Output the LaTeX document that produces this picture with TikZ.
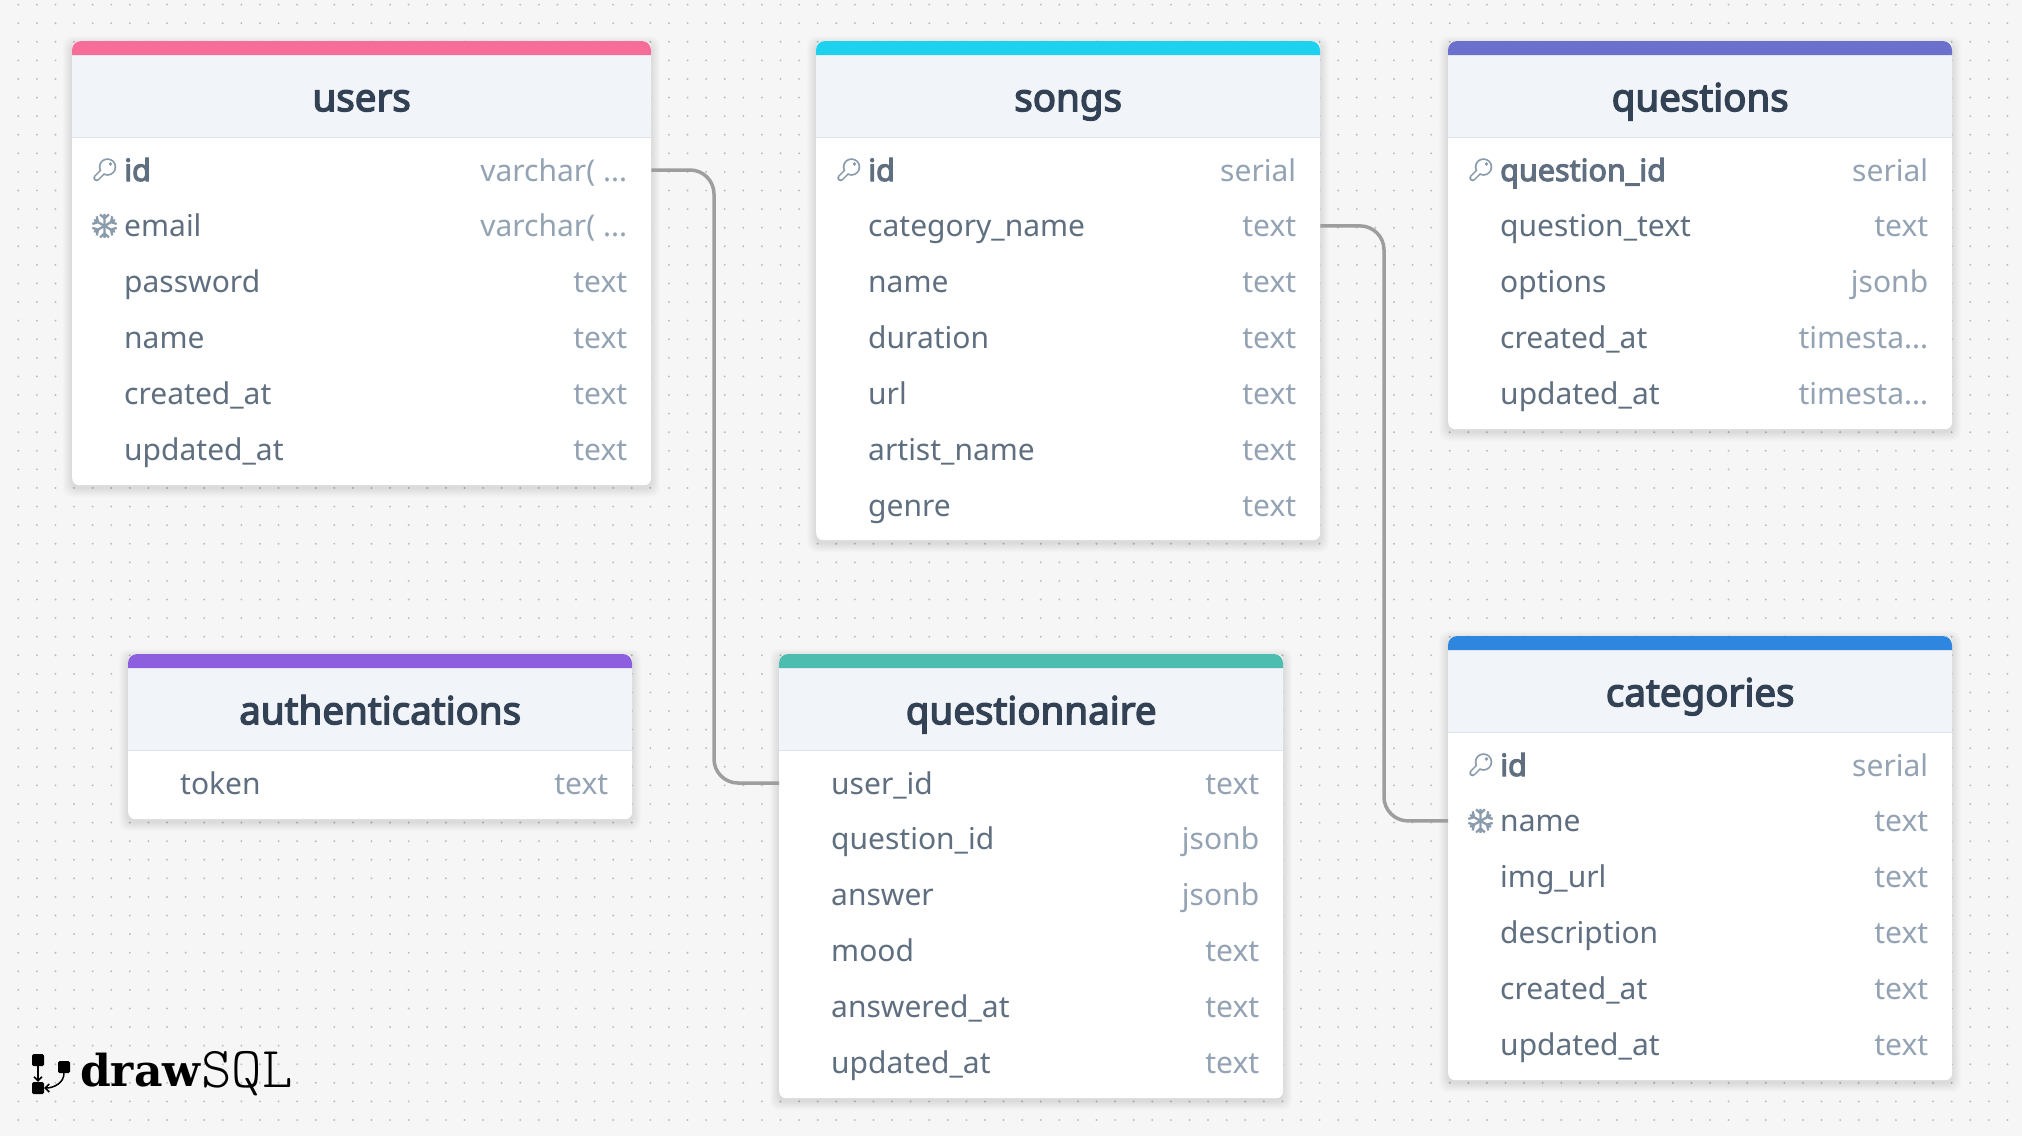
\documentclass[tikz,border=0pt]{standalone}
\usepackage{fontspec}
\setmainfont{Noto Sans}[AutoFakeBold=3.5]
\usetikzlibrary{arrows.meta}

\definecolor{pagebg}{HTML}{F6F6F6}
\definecolor{griddot}{HTML}{BEBEBE}
\definecolor{headbg}{HTML}{F1F4F9}
\definecolor{headline}{HTML}{DCE3EC}
\definecolor{titletext}{HTML}{334155}
\definecolor{fieldtext}{HTML}{5F6F80}
\definecolor{kindtext}{HTML}{94A3B3}
\definecolor{marktext}{HTML}{8A9BAB}
\definecolor{relline}{HTML}{9E9E9E}
\definecolor{pinkband}{HTML}{F76D9A}
\definecolor{cyanband}{HTML}{1DD1EF}
\definecolor{indigoband}{HTML}{6B70CC}
\definecolor{purpleband}{HTML}{8D5FDF}
\definecolor{tealband}{HTML}{4CBDAE}
\definecolor{blueband}{HTML}{2E86DE}

\newcommand{\vchar}{varchar( ...}
\newcommand{\tstamp}{timesta...}

\tikzset{
    body/.style = {fill=white, rounded corners=7, anchor=north west, inner sep=0},
    head/.style = {fill=headbg, anchor=north west, inner sep=0, minimum height=82,
        font=\fontsize{38.5}{38.5}\selectfont\bfseries, text=titletext, text height=30, text depth=0},
    rowbox/.style = {inner sep=0, minimum height=55.9},
    plainfield/.style = {anchor=west, inner sep=0, text=fieldtext,
        font=\fontsize{30}{30}\selectfont, text height=25, text depth=3},
    idfield/.style = {plainfield, font=\fontsize{30.5}{30.5}\selectfont\bfseries},
    kind/.style = {anchor=east, inner sep=0, text=kindtext,
        font=\fontsize{30}{30}\selectfont, text height=25, text depth=3},
    rel/.style = {draw=relline, line width=3.5, rounded corners=24},
    logobox/.style = {fill=black, rounded corners=1.5, minimum size=12, inner sep=0},
    logoline/.style = {line width=1.5, -{Straight Barb[length=4,width=8]}},
    keymark/.pic = {
        \draw[marktext, line width=6.6, line cap=round] (-8,8) -- (3,-3);
        \fill[marktext] (3,-3) circle[radius=8.8];
        \draw[white, line width=3.4, line cap=round] (-8,8) -- (3,-3);
        \fill[white] (3,-3) circle[radius=7];
        \fill[marktext] (6,-6) circle[radius=1.9];
    },
    idxmark/.pic = {
        \foreach \a in {0,60,...,300}
            \draw[marktext, line width=2.3, rotate=\a] (0,0) -- (0,-12) (-4.4,-11.5) -- (0,-7.5) -- (4.4,-11.5);
    }
}

% #1 name, #2 x, #3 top, #4 width, #5 height, #6 band, #7 title, #8 rows
\newcommand{\dbtable}[8]{
    \foreach \s in {1,...,9}
        \fill[black, opacity=.012, rounded corners=9] (#2-\s,#3+4-\s) rectangle (#2+#4+\s,#3+#5+3+\s);
    \node[body, minimum width=#4, minimum height=#5] (#1) at (#2,#3) {};
    \node[head, minimum width=#4] (#1-head) at (#2,#3+14) {#7};
    \fill[#6] [rounded corners=9] (#2,#3+14) -- (#2,#3) -- (#2+#4,#3) [sharp corners] -- (#2+#4,#3+14) -- cycle;
    \draw[headline, line width=1.5] (#1-head.south west) -- (#1-head.south east);
    \foreach \sty/\fname/\fkind [count=\i] in {#8} {
        \path (#1.north) ++(0,{73.1+55.9*\i}) node[rowbox, minimum width=#4] (#1-\i) {};
        \node[\sty] (#1-\i-name) at ([xshift=52]#1-\i.west) {\fname};
        \node[kind] (#1-\i-kind) at ([xshift=-24]#1-\i.east) {\fkind};
    }
}

\begin{document}
\begin{tikzpicture}[x=1pt, y=-1pt]
    \useasboundingbox (0,0) rectangle (2022,1136);
    \fill[pagebg] (0,0) rectangle (2022,1136);
    \foreach \x in {18.3,36.89,...,2022}
        \foreach \y in {4.6,23.19,...,1136}
            \fill[griddot] (\x,\y) circle[radius=1.1];

    \dbtable{users}{72}{41}{579}{444}{pinkband}{users}{
        idfield/id/\vchar, plainfield/email/\vchar, plainfield/password/text,
        plainfield/name/text, plainfield/created\_at/text, plainfield/updated\_at/text}
    \dbtable{songs}{816}{41}{504}{499}{cyanband}{songs}{
        idfield/id/serial, plainfield/category\_name/text, plainfield/name/text,
        plainfield/duration/text, plainfield/url/text, plainfield/artist\_name/text,
        plainfield/genre/text}
    \dbtable{questions}{1448}{41}{504}{388}{indigoband}{questions}{
        idfield/question\_id/serial, plainfield/question\_text/text, plainfield/options/jsonb,
        plainfield/created\_at/\tstamp, plainfield/updated\_at/\tstamp}
    \dbtable{authentications}{128}{654}{504}{165}{purpleband}{authentications}{
        plainfield/token/text}
    \dbtable{questionnaire}{779}{654}{504}{444}{tealband}{questionnaire}{
        plainfield/user\_id/text, plainfield/question\_id/jsonb, plainfield/answer/jsonb,
        plainfield/mood/text, plainfield/answered\_at/text, plainfield/updated\_at/text}
    \dbtable{categories}{1448}{636}{504}{444}{blueband}{categories}{
        idfield/id/serial, plainfield/name/text, plainfield/img\_url/text,
        plainfield/description/text, plainfield/created\_at/text, plainfield/updated\_at/text}

    \pic at ([xshift=32.5]users-1.west) {keymark};
    \pic at ([xshift=32.5]songs-1.west) {keymark};
    \pic at ([xshift=32.5]questions-1.west) {keymark};
    \pic at ([xshift=32.5]categories-1.west) {keymark};
    \pic at ([xshift=32.5]users-2.west) {idxmark};
    \pic at ([xshift=32.5]categories-2.west) {idxmark};

    \coordinate (bend1) at (714,400);
    \coordinate (bend2) at (1384,400);
    \draw[rel] (users-1.east) -| (bend1) |- (questionnaire-1.west);
    \draw[rel] (songs-2.east) -| (bend2) |- (categories-2.west);

    \node[logobox] (logo1) at (38,1060) {};
    \node[logobox] (logo2) at (64,1067) {};
    \node[logobox] (logo3) at (38,1088) {};
    \draw[logoline] (logo1) -- (logo3);
    \draw[logoline] (logo2.south) to[out=-90, in=0] (logo3.east);
    \node[anchor=base west, inner sep=0, font={\fontspec{DejaVu Serif}\fontsize{44}{44}\selectfont\bfseries}] (logoword) at (80,1086) {draw};
    \node[anchor=base west, inner sep=0, font={\fontsize{58}{58}\selectfont\fontseries{l}\ttfamily}] (logosql) at (201,1087) {SQL};
\end{tikzpicture}
\end{document}
